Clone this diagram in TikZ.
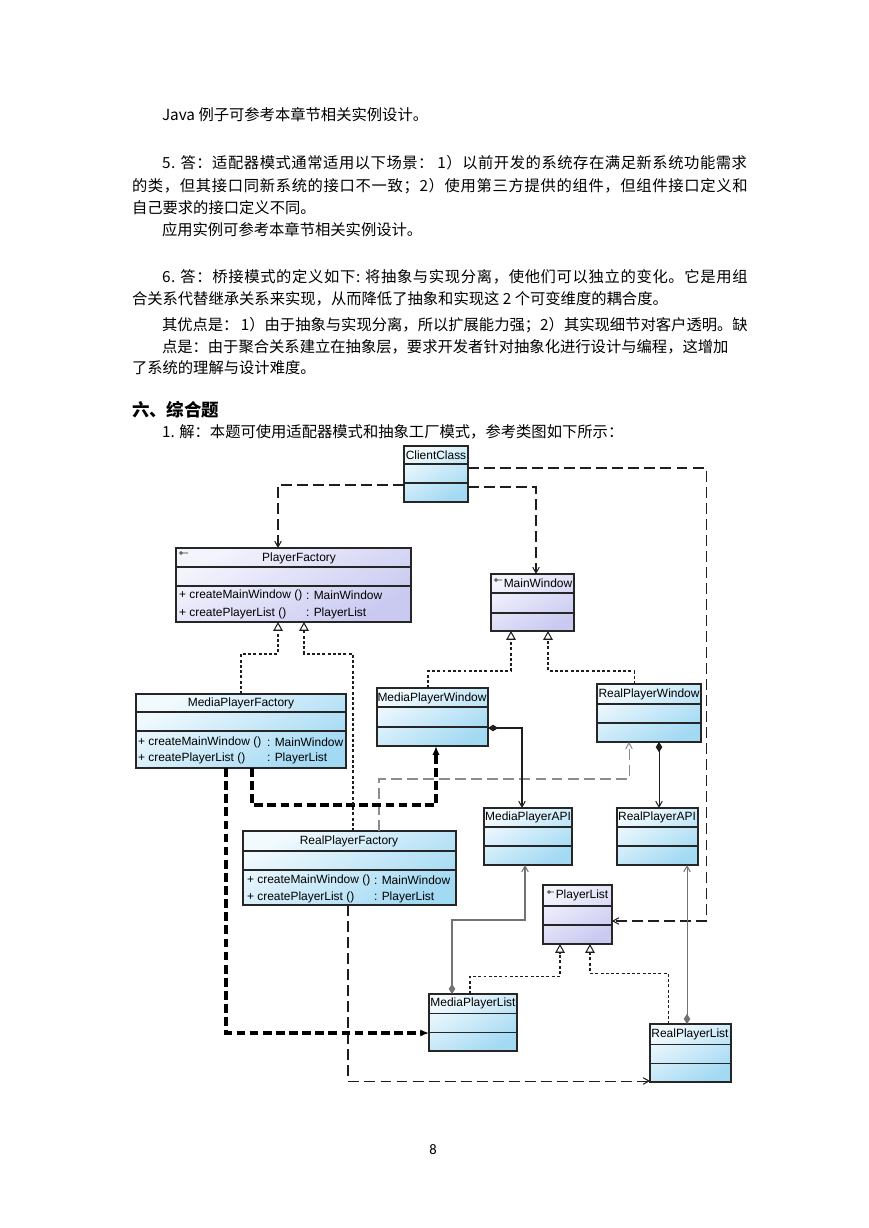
\documentclass[tikz,border=0pt]{standalone}
\usepackage{fontspec}
\setmainfont{Liberation Serif}
\newfontfamily\cjkfont{Noto Sans CJK SC}
\newfontfamily\umlfont{Liberation Sans}
\newfontfamily\pagefont{Carlito}
\usetikzlibrary{arrows.meta}
\definecolor{clsA}{HTML}{F2FAFE}
\definecolor{clsB}{HTML}{A2D9F3}
\definecolor{absA}{HTML}{F4F4FD}
\definecolor{absB}{HTML}{C9C9F1}
\definecolor{wire}{HTML}{1E1E1E}
\tikzset{
  every node/.style={text=black, inner sep=0pt, outer sep=0pt},
  txt/.style={anchor=west, font=\cjkfont\fontsize{10.5}{12}\selectfont},
  head/.style={anchor=west, font=\cjkfont\bfseries\fontsize{12}{14}\selectfont},
  pagenum/.style={font=\pagefont\fontsize{10}{12}\selectfont},
  umltxt/.style={font=\umlfont\fontsize{8.2}{10}\selectfont},
  classbox/.style={draw=black!85, line width=0.8pt, anchor=north west},
  blueclass/.style={classbox, top color=clsA, bottom color=clsB, shading angle=30},
  violetclass/.style={classbox, top color=absA, bottom color=absB, shading angle=30},
  rowline/.style={black!85, line width=0.7pt},
  dep/.style={draw=wire, line width=0.7pt, dash pattern=on 7.5pt off 3.5pt,
    -{Straight Barb[length=4pt,width=4.5pt]}},
  graydep/.style={dep, draw=black!45},
  real/.style={draw=wire, line width=0.7pt, dash pattern=on 2pt off 1.6pt,
    -{Triangle[open,fill=white,length=6pt,width=6.5pt]}},
  comp/.style={draw=wire, line width=0.7pt,
    {Diamond[length=7pt,width=4.5pt]}-{Straight Barb[length=4pt,width=4.5pt]}},
  bolddep/.style={draw=black, line width=2.4pt, dash pattern=on 6pt off 3pt,
    -{Latex[length=6pt,width=5pt]}},
  keyicon/.style={line width=0.5pt, black!80}
}
% [style]{name}{x1}{y1}{x2}{y2}{first row}{second row}
\newcommand\umlclass[8][blueclass]{%
  \node[#1, minimum width={(#5-#3)*0.6858pt}, minimum height={(#6-#4)*0.6858pt}] (#2) at (#3,#4) {};
  \draw[rowline] (#2.north west) ++(0,#7) -- ++(#5-#3,0);
  \draw[rowline] (#2.north west) ++(0,#8) -- ++(#5-#3,0);
}
% justified line: letter spacing, box width
\newcommand\fullline[3]{{\addfontfeature{LetterSpace=#1}\makebox[#2][s]{#3}}}
\begin{document}
\begin{tikzpicture}[x=0.6858pt, y=-0.6858pt]
    \fill[white] (0,0) rectangle (868,1228);
    \useasboundingbox (0,0) rectangle (868,1228);

    % page text
    \node[txt] (l1) at (162,115) {Java 例子可参考本章节相关实例设计。};
    \node[txt] (l2) at (162,163) {\fullline{3.5}{401.2pt}{5. 答：适配器模式通常适用以下场景： 1）以前开发的系统存在满足新系统功能需求}};
    \node[txt] (l3) at (132,186) {\fullline{4.35}{421.8pt}{的类，但其接口同新系统的接口不一致；2）使用第三方提供的组件，但组件接口定义和}};
    \node[txt] (l4) at (132,208) {自己要求的接口定义不同。};
    \node[txt] (l5) at (162,230) {应用实例可参考本章节相关实例设计。};
    \node[txt] (l6) at (162,277) {\fullline{4.3}{401.2pt}{6. 答：桥接模式的定义如下: 将抽象与实现分离，使他们可以独立的变化。它是用组}};
    \node[txt] (l7) at (132,299) {合关系代替继承关系来实现，从而降低了抽象和实现这 2 个可变维度的耦合度。};
    \node[txt] (l8) at (162,325) {\fullline{0}{401.2pt}{其优点是： 1）由于抽象与实现分离，所以扩展能力强；2）其实现细节对客户透明。缺}};
    \node[txt] (l9) at (162,347) {点是：由于聚合关系建立在抽象层，要求开发者针对抽象化进行设计与编程，这增加};
    \node[txt] (l10) at (132,368) {了系统的理解与设计难度。};
    \node[head] (h1) at (132,410) {六、综合题};
    \node[txt] (l11) at (162,432) {1. 解：本题可使用适配器模式和抽象工厂模式，参考类图如下所示：};
    \node[pagenum] (pg) at (433,1150) {8};

    % classes
    \umlclass{cc}{404}{446}{468}{502}{18}{37}
    \umlclass[violetclass]{pf}{176}{548}{411}{622}{19}{38}
    \umlclass[violetclass]{mw}{491}{574}{574}{631}{19}{39}
    \umlclass{mpf}{136}{694}{346}{768}{18}{37}
    \umlclass{mpw}{377}{688}{488}{746}{19}{39}
    \umlclass{rpw}{597}{684}{701}{742}{20}{39}
    \umlclass{rpf}{243}{831}{456}{905}{20}{39}
    \umlclass{mpa}{484}{808}{572}{865}{19}{38}
    \umlclass{rpa}{617}{808}{698}{865}{19}{38}
    \umlclass[violetclass]{pl}{543}{885}{612}{944}{21}{40}
    \umlclass{mpl}{429}{994}{517}{1051}{19}{38}
    \umlclass{rpl}{650}{1024}{731}{1082}{20}{39}

    % class names
    \node[umltxt] (cct) at (436,455) {ClientClass};
    \node[umltxt] (pft) at (299,558) {PlayerFactory};
    \node[umltxt] (mwt) at (538,583) {MainWindow};
    \node[umltxt] (mpft) at (241,703) {MediaPlayerFactory};
    \node[umltxt] (mpwt) at (432,698) {MediaPlayerWindow};
    \node[umltxt] (rpwt) at (649,694) {RealPlayerWindow};
    \node[umltxt] (rpft) at (349,841) {RealPlayerFactory};
    \node[umltxt] (mpat) at (528,817) {MediaPlayerAPI};
    \node[umltxt] (rpat) at (657,817) {RealPlayerAPI};
    \node[umltxt] (plt) at (582,895) {PlayerList};
    \node[umltxt] (mplt) at (473,1003) {MediaPlayerList};
    \node[umltxt] (rplt) at (690,1034) {RealPlayerList};
    \draw[keyicon] (181,553) circle (1.4) (182.5,553) -- (188,553);
    \draw[keyicon] (496,580) circle (1.4) (497.5,580) -- (502,580);
    \draw[keyicon] (549,892) circle (1.4) (550.5,892) -- (554,892);

    % operations
    \node[umltxt, anchor=west] (pfo1) at (179,595) {+ createMainWindow ()};
    \node[umltxt, anchor=west] (pfr1) at (306,595) {: MainWindow};
    \node[umltxt, anchor=west] (pfo2) at (179,613) {+ createPlayerList ()};
    \node[umltxt, anchor=west] (pfr2) at (306,613) {: PlayerList};
    \node[umltxt, anchor=west] (mpfo1) at (138,742) {+ createMainWindow ()};
    \node[umltxt, anchor=west] (mpfr1) at (267,742) {: MainWindow};
    \node[umltxt, anchor=west] (mpfo2) at (138,758) {+ createPlayerList ()};
    \node[umltxt, anchor=west] (mpfr2) at (267,758) {: PlayerList};
    \node[umltxt, anchor=west] (rpfo1) at (247,880) {+ createMainWindow ()};
    \node[umltxt, anchor=west] (rpfr1) at (374,880) {: MainWindow};
    \node[umltxt, anchor=west] (rpfo2) at (247,897) {+ createPlayerList ()};
    \node[umltxt, anchor=west] (rpfr2) at (374,897) {: PlayerList};

    % bends
    \coordinate (c1) at (278,485);
    \coordinate (c2) at (536,487);
    \coordinate (c3a) at (706,468);
    \coordinate (c3b) at (706,921);
    \coordinate (r1a) at (241,654);
    \coordinate (r1b) at (278,654);
    \coordinate (r2a) at (353,654);
    \coordinate (r2b) at (304,654);
    \coordinate (r3a) at (428,671);
    \coordinate (r3b) at (511,671);
    \coordinate (r4a) at (634,671);
    \coordinate (r4b) at (548,671);
    \coordinate (r5a) at (470,976);
    \coordinate (r5b) at (560,976);
    \coordinate (r6a) at (668,973);
    \coordinate (r6b) at (590,973);
    \coordinate (k1) at (522,728);
    \coordinate (k2) at (659,770);
    \coordinate (k3a) at (452,920);
    \coordinate (k3b) at (525,920);
    \coordinate (k4) at (687,950);
    \coordinate (t1a) at (252,805);
    \coordinate (t1b) at (436,805);
    \coordinate (t2) at (226,1033);
    \coordinate (g1a) at (379,779);
    \coordinate (g1b) at (629,779);
    \coordinate (d1) at (348,1081);

    % dependencies
    \draw[dep] (cc.west |- c1) -- (c1) -- (c1 |- pf.north);
    \draw[dep] (cc.east |- c2) -- (c2) -- (c2 |- mw.north);
    \draw[dep] (cc.east |- c3a) -- (c3a) -- (c3b) -- (pl.east |- c3b);
    \draw[graydep] (g1a |- rpf.north) -- (g1a) -- (g1b) -- (g1b |- rpw.south);
    \draw[dep] (d1 |- rpf.south) -- (d1) -- (rpl.west |- d1);
    \draw[bolddep] (t1a |- mpf.south) -- (t1a) -- (t1b) -- (t1b |- mpw.south);
    \draw[bolddep] (t2 |- mpf.south) -- (t2) -- (mpl.west |- t2);

    % realizations
    \draw[real] (r1a |- mpf.north) -- (r1a) -- (r1b) -- (r1b |- pf.south);
    \draw[real] (r2a |- rpf.north) -- (r2a) -- (r2b) -- (r2b |- pf.south);
    \draw[real] (r3a |- mpw.north) -- (r3a) -- (r3b) -- (r3b |- mw.south);
    \draw[real] (r4a |- rpw.north) -- (r4a) -- (r4b) -- (r4b |- mw.south);
    \draw[real] (r5a |- mpl.north) -- (r5a) -- (r5b) -- (r5b |- pl.south);
    \draw[real] (r6a |- rpl.north) -- (r6a) -- (r6b) -- (r6b |- pl.south);

    % compositions
    \draw[comp] (mpw.east |- k1) -- (k1) -- (k1 |- mpa.north);
    \draw[comp] (k2 |- rpw.south) -- (k2 |- rpa.north);
    \draw[comp, draw=black!55] (k3a |- mpl.north) -- (k3a) -- (k3b) -- (k3b |- mpa.south);
    \draw[comp, draw=black!55] (k4 |- rpl.north) -- (k4 |- rpa.south);
\end{tikzpicture}
\end{document}
